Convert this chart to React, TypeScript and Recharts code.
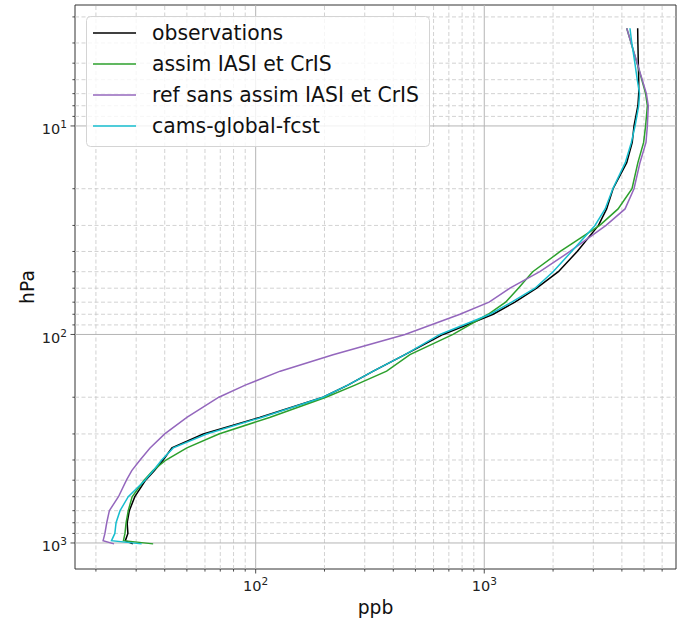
import {
  ScatterChart,
  Scatter,
  XAxis,
  YAxis,
  ReferenceLine,
  ReferenceArea,
  Legend,
} from "recharts";

// pressure levels (hPa) shared by every profile
const pressure = [
  3.4, 4, 5, 6, 7, 8, 10, 12, 15, 20, 25, 30, 40, 50, 60, 70, 80, 100, 125, 150,
  175, 200, 250, 300, 350, 400, 450, 500, 600, 700, 800, 900, 975, 1010,
];

// values in ppb, one per pressure level
const observations = [
  4690, 4700, 4720, 4740, 4740, 4700, 4520, 4440, 4200, 3660, 3430, 3160, 2550,
  2110, 1695, 1362, 1094, 660, 450, 327, 253, 197, 104, 59, 43, 39.4, 36, 33,
  29.6, 28, 27.4, 27.6, 26.9, 29,
];
const assimIasiCris = [
  4200, 4390, 4660, 4890, 5080, 5170, 5080, 4980, 4700, 4430, 3850, 3200, 2150,
  1630, 1410, 1240, 1040, 730, 473, 374, 272, 203, 115, 69, 50, 40.5, 35.5, 32.5,
  28.8, 27.7, 27.1, 26.8, 26.4, 35.6,
];
const refSansAssim = [
  4200, 4390, 4670, 4910, 5120, 5220, 5170, 5100, 4800, 4520, 4130, 3410, 2370,
  1750, 1295, 1050, 783, 450, 218, 128, 90, 69, 50, 40, 34.5, 31.2, 28.7, 27.2,
  25.1, 22.9, 22.3, 21.9, 21.5, 24,
];
const camsGlobalFcst = [
  4340, 4420, 4560, 4670, 4780, 4740, 4570, 4400, 4140, 3650, 3380, 3050, 2410,
  2000, 1667, 1318, 1060, 640, 450, 327, 253, 197, 106, 61, 43.6, 38.8, 35.6,
  32.8, 27.7, 25.5, 24.5, 24.2, 23.4, 31.7,
];

const xTicks = [
  20, 30, 40, 50, 60, 70, 80, 90, 100, 200, 300, 400, 500, 600, 700, 800, 900,
  1000, 2000, 3000, 4000, 5000, 6000,
];
const yTicks = [
  3, 4, 5, 6, 7, 8, 9, 10, 20, 30, 40, 50, 60, 70, 80, 90, 100, 200, 300, 400,
  500, 600, 700, 800, 900, 1000,
];
const xMajor = [100, 1000];
const yMajor = [10, 100, 1000];
const xDomain = [16.2, 6900];
const yDomain = [2.63, 1333];

const series = [
  { name: "observations", values: observations, color: "#000000" },
  { name: "assim IASI et CrIS", values: assimIasiCris, color: "#2ca02c" },
  { name: "ref sans assim IASI et CrIS", values: refSansAssim, color: "#9467bd" },
  { name: "cams-global-fcst", values: camsGlobalFcst, color: "#17becf" },
];

const FONT = "DejaVu Sans, sans-serif";

const toPoints = (values: number[]) =>
  values.map((v, i) => ({ x: v, y: pressure[i] }));

const exponent = (v: number) => Math.round(Math.log10(v));

const XTick = ({ x, y, payload }: any) => {
  const major = xMajor.includes(payload.value);
  return (
    <g>
      <line x1={x} x2={x} y1={y} y2={y + (major ? 4.5 : 2.6)} stroke="#222" strokeWidth={0.8} />
      {major && (
        <text x={x} y={y + 22} textAnchor="middle" fontSize={14.5} fontFamily={FONT} fill="#222">
          10<tspan fontSize={10.5} dy={-6}>{exponent(payload.value)}</tspan>
        </text>
      )}
    </g>
  );
};

const YTick = ({ x, y, payload }: any) => {
  const major = yMajor.includes(payload.value);
  return (
    <g>
      <line x1={x} x2={x - (major ? 4.5 : 2.6)} y1={y} y2={y} stroke="#222" strokeWidth={0.8} />
      {major && (
        <text x={x - 8} y={y + 8.5} textAnchor="end" fontSize={14.5} fontFamily={FONT} fill="#222">
          10<tspan fontSize={10.5} dy={-6}>{exponent(payload.value)}</tspan>
        </text>
      )}
    </g>
  );
};

const renderLegend = () => (
  <svg width={346} height={132} style={{ display: "block" }}>
    <rect
      x={0.5}
      y={0.5}
      width={343}
      height={130}
      rx={4}
      fill="rgba(255,255,255,0.8)"
      stroke="#d4d4d4"
    />
    {series.map((s, i) => (
      <g key={s.name}>
        <line x1={7} x2={50} y1={17 + 31 * i} y2={17 + 31 * i} stroke={s.color} strokeWidth={1.6} />
        <text x={66} y={24.4 + 31 * i} fontSize={20.4} fontFamily={FONT} fill="#111">
          {s.name}
        </text>
      </g>
    ))}
  </svg>
);

export default function App() {
  return (
    <div style={{ position: "absolute", left: 0, top: 0, background: "#fff" }}>
      <ScatterChart
        width={686}
        height={623}
        margin={{ top: 5, right: 10, left: 15, bottom: 14 }}
      >
        <XAxis
          type="number"
          dataKey="x"
          scale="log"
          domain={xDomain}
          allowDataOverflow
          ticks={xTicks}
          interval={0}
          tick={<XTick />}
          tickLine={false}
          axisLine={false}
          tickSize={0}
          tickMargin={0}
          height={40}
          label={(props: any) => {
            const vb = props.viewBox;
            return (
              <text
                x={vb.x + vb.width / 2}
                y={vb.y + 45}
                textAnchor="middle"
                fontSize={18.7}
                fontFamily={FONT}
                fill="#111"
              >
                ppb
              </text>
            );
          }}
        />
        <YAxis
          type="number"
          dataKey="y"
          scale="log"
          domain={yDomain}
          allowDataOverflow
          reversed
          ticks={yTicks}
          interval={0}
          tick={<YTick />}
          tickLine={false}
          axisLine={false}
          tickSize={0}
          tickMargin={0}
          width={60}
          label={(props: any) => {
            const vb = props.viewBox;
            const cx = vb.x + 19;
            const cy = vb.y + vb.height / 2;
            return (
              <text
                x={cx}
                y={cy}
                transform={`rotate(-90, ${cx}, ${cy})`}
                textAnchor="middle"
                fontSize={18.7}
                fontFamily={FONT}
                fill="#111"
              >
                hPa
              </text>
            );
          }}
        />

        {xTicks.map((v) => (
          <ReferenceLine
            key={`gx${v}`}
            x={v}
            stroke={xMajor.includes(v) ? "#b4b4b4" : "#c6c6c6"}
            strokeWidth={xMajor.includes(v) ? 1 : 0.8}
            strokeDasharray={xMajor.includes(v) ? undefined : "4 2.5"}
          />
        ))}
        {yTicks.map((v) => (
          <ReferenceLine
            key={`gy${v}`}
            y={v}
            stroke={yMajor.includes(v) ? "#b4b4b4" : "#c6c6c6"}
            strokeWidth={yMajor.includes(v) ? 1 : 0.8}
            strokeDasharray={yMajor.includes(v) ? undefined : "4 2.5"}
          />
        ))}

        {series.map((s) => (
          <Scatter
            key={s.name}
            name={s.name}
            data={toPoints(s.values)}
            fill={s.color}
            line={{ stroke: s.color, strokeWidth: 1.5 }}
            lineJointType="linear"
            shape={() => <g />}
            legendType="line"
            isAnimationActive={false}
          />
        ))}

        <ReferenceArea
          x1={xDomain[0]}
          x2={xDomain[1]}
          y1={yDomain[0]}
          y2={yDomain[1]}
          fill="none"
          stroke="#333"
          strokeWidth={1}
          ifOverflow="visible"
        />

        <Legend
          layout="vertical"
          align="center"
          verticalAlign="middle"
          content={renderLegend}
          wrapperStyle={{ left: 86, top: 16, width: 346, height: 132 }}
        />
      </ScatterChart>
    </div>
  );
}
